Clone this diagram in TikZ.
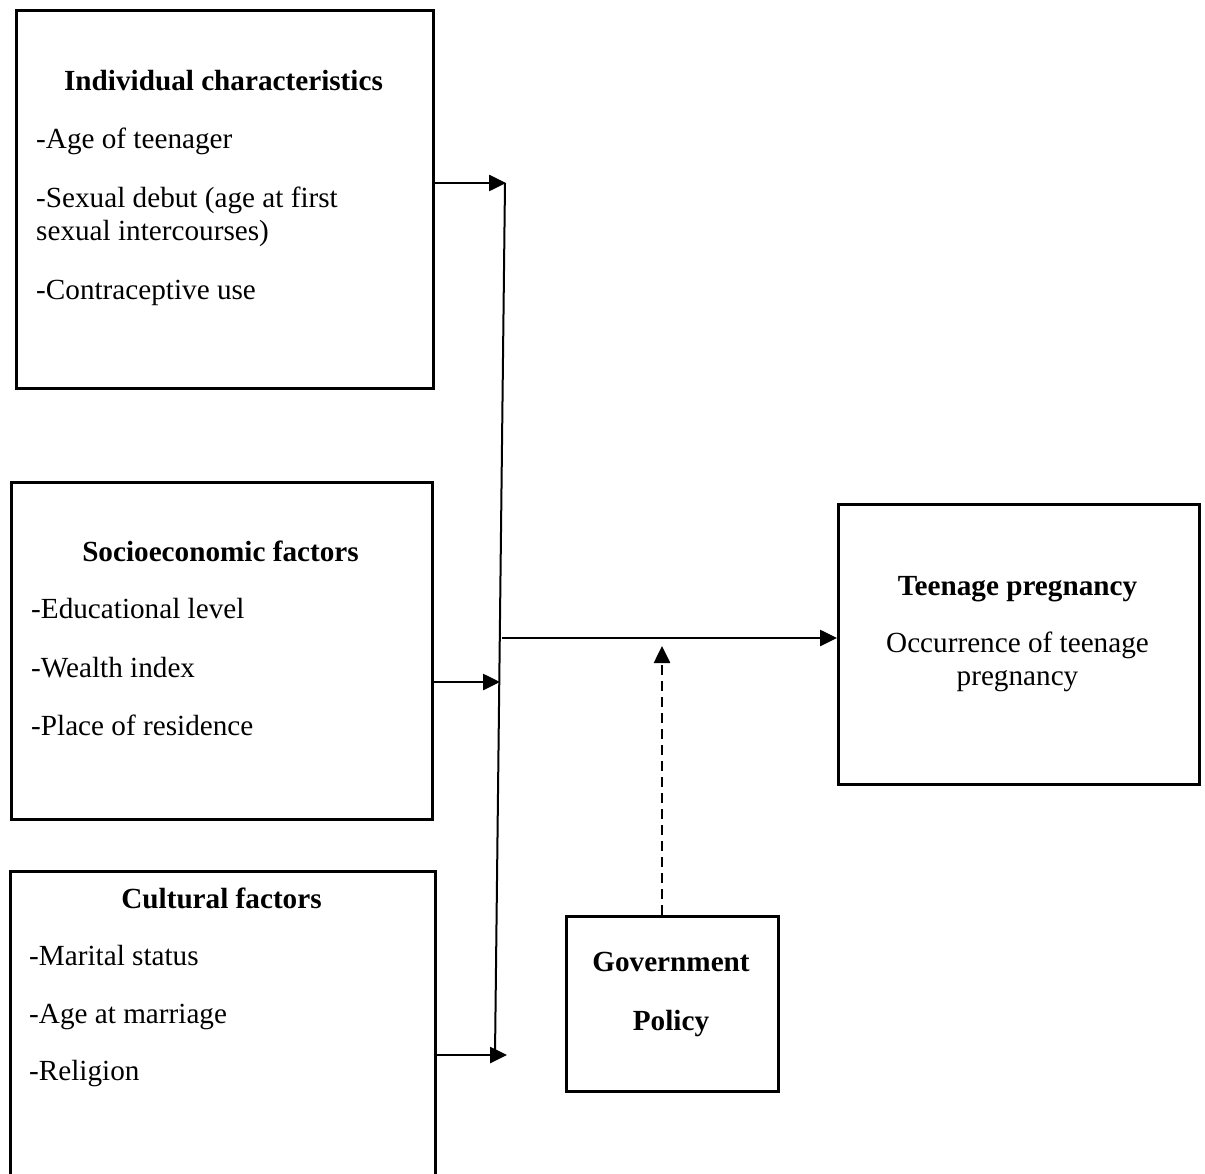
\documentclass[tikz,border=0pt]{standalone}
\usepackage{fontspec}
\setmainfont{Liberation Serif}
\usepackage{tikz}
\usetikzlibrary{positioning, arrows.meta}

\begin{document}
\begin{tikzpicture}[x=1pt, y=-1pt,
        box/.style={rectangle, draw, line width=2.6pt, anchor=north west, inner sep=0pt},
        head/.style={anchor=base, inner sep=0pt, font=\fontsize{29.2pt}{33pt}\selectfont\bfseries},
        items/.style={anchor=north west, inner sep=0pt, align=left, font=\fontsize{29.2pt}{33pt}\selectfont},
        arrow/.style={-{Triangle[length=17pt, width=16pt]}, line width=2.6pt}]

        \clip (0,0) rectangle (1205,1174);

        \node[box, minimum width=417pt, minimum height=378pt] (indiv) at (15,9)   {};
        \node[box, minimum width=421pt, minimum height=337pt] (socio) at (10,481) {};
        \node[box, minimum width=425pt, minimum height=330pt] (cult)  at (9,870)  {};
        \node[box, minimum width=361pt, minimum height=280pt] (preg)  at (837,503) {};
        \node[box, minimum width=212pt, minimum height=175pt] (gov)   at (565,915) {};

        \node[head] (indivhead) at (223.5,91)  {Individual characteristics};
        \node[head] (sociohead) at (220.5,561) {Socioeconomic factors};
        \node[head] (culthead)  at (221.5,908) {Cultural factors};
        \node[head] (preghead)  at (1017.5,595) {Teenage pregnancy};
        \node[head, anchor=north, align=center] (govhead) at (671,952) {Government\\[26pt]Policy};

        \node[items] (indivlist) at (36,128) {-Age of teenager\\[26pt]-Sexual debut (age at first\\sexual intercourses)\\[26pt]-Contraceptive use};
        \node[items] (sociolist) at (31,598) {-Educational level\\[26pt]-Wealth index\\[25pt]-Place of residence};
        \node[items] (cultlist)  at (29,945) {-Marital status\\[25pt]-Age at marriage\\[24pt]-Religion};
        \node[items, anchor=north, align=center] (preglist) at (1017.5,632) {Occurrence of teenage\\pregnancy};

        \coordinate (vtop) at (505,183);
        \coordinate (vbot) at (495,1055);
        \coordinate (in1)  at (506,183);
        \coordinate (in2)  at (500,682);
        \coordinate (in3)  at (507,1055);
        \coordinate (out)  at (502,638);
        \coordinate (mod)  at (662,646);

        \draw[line width=2pt] (vtop) -- (vbot);
        \draw[arrow] (in1 -| indiv.east) -- (in1);
        \draw[arrow] (in2 -| socio.east) -- (in2);
        \draw[arrow] (in3 -| cult.east)  -- (in3);
        \draw[arrow] (out) -- (out -| preg.west);
        \draw[arrow, dash pattern=on 10pt off 6pt] (mod |- gov.north) -- (mod);
    \end{tikzpicture}
\end{document}
